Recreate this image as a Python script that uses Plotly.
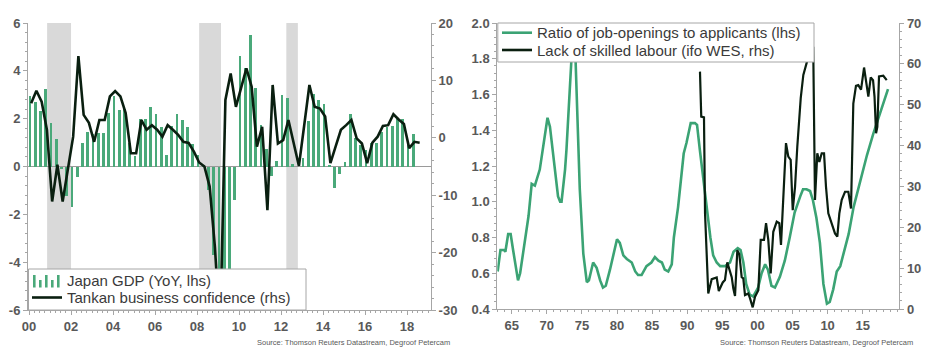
import plotly.graph_objects as go
import pandas as pd

# ---------------- Left panel data ----------------
gdp_quarters = pd.period_range("2000Q1", "2018Q2", freq="Q")
gdp_yoy = [2.95, 2.7, 2.3, 3.25,
           1.8, 1.15, -0.1, -1.25,
           -1.7, -0.45, 1.0, 1.45,
           1.35, 1.4, 1.4, 2.25,
           2.95, 2.35, 2.4, 1.0,
           0.45, 2.0, 2.0, 2.5,
           2.2, 1.65, 0.5, 1.7,
           2.2, 1.94, 1.67, 0.95,
           0.5, 0.05, -1.0, -3.7,
           -8.0, -6.5, -5.2, -1.4,
           4.6, 4.1, 5.5, 3.3,
           1.75, 0.75, -0.4, 0.25,
           3.0, 2.85, 0.1, 0.0,
           0.35, 1.9, 3.05, 2.8,
           2.6, 0.05, -0.9, -0.3,
           0.2, 2.2, 1.2, 0.9,
           0.7, 1.0, 1.0, 1.45,
           1.65, 1.7, 2.0, 2.0,
           1.05, 1.35]

tankan_quarters = pd.period_range("2000Q1", "2018Q3", freq="Q")
tankan = [6.0, 8.2, 6.3, 1.4, -11.1, -4.7, -11.1, -5.6, 0.2, 14.25,
          4.0, 2.6, -0.7, 3.1, 3.1, 7.2, 8.15, 7.2, 4.3, -2.7,
          -2.7, 3.1, 1.4, 2.2, 1.4, 0.2, 2.2, 1.4, 0.5, -0.7,
          -0.9, -2.4, -4.3, -5.0, -8.5, -19.0, -34.0, 6.6, 11.2, 5.4,
          8.8, 12.1, 8.9, -1.55, 1.9, -12.6, 9.2, -1.0, -0.4, 3.1,
          -0.9, -4.9, 2.1, 9.2, 5.4, 5.1, 3.7, -4.4, -1.5, 1.4,
          2.2, 3.1, -0.1, -1.0, -4.4, -0.85, 0.2, 2.05, 2.2, 4.1,
          3.2, 2.4, -1.8, -0.7, -0.85]

recession_start = [2000.86, 2008.1, 2012.25]
recession_end = [2002.0, 2009.14, 2012.8]

left_xticks = [2000, 2002, 2004, 2006, 2008, 2010, 2012, 2014, 2016, 2018]
left_xlabels = ["00", "02", "04", "06", "08", "10", "12", "14", "16", "18"]
left_y1ticks = [-6, -4, -2, 0, 2, 4, 6]
left_y1labels = ["-6", "-4", "-2", "0", "2", "4", "6"]
left_y2ticks = [-30, -20, -10, 0, 10, 20]
left_y2labels = ["-30", "-20", "-10", "0", "10", "20"]

# ---------------- Right panel data ----------------
ratio_years = [1963.0, 1963.4, 1963.9, 1964.1, 1964.5, 1964.85, 1965.2, 1965.9, 1966.2, 1966.65,
               1967.4, 1967.85, 1968.3, 1969.0, 1969.5, 1970.1, 1970.45, 1970.9, 1971.3, 1971.6,
               1971.9, 1972.1, 1972.6, 1972.8, 1973.5, 1973.8, 1974.1, 1974.5, 1974.7, 1975.2,
               1975.7, 1976.0, 1976.6, 1977.1, 1977.6, 1978.0, 1978.4, 1979.0, 1980.0, 1980.4,
               1980.9, 1981.4, 1982.1, 1982.6, 1983.0, 1983.5, 1984.2, 1984.9, 1985.4, 1985.9,
               1986.4, 1986.8, 1987.3, 1987.8, 1988.1, 1988.7, 1989.0, 1989.5, 1989.9, 1990.5,
               1991.1, 1991.4, 1991.8, 1992.3, 1992.8, 1993.3, 1993.7, 1994.2, 1994.7, 1995.4,
               1996.1, 1996.6, 1997.2, 1997.6, 1998.0, 1998.4, 1998.9, 1999.4, 2000.1, 2000.6,
               2001.1, 2001.5, 2002.0, 2002.5, 2003.2, 2003.9, 2004.6, 2005.3, 2006.1, 2006.5,
               2007.0, 2007.5, 2007.9, 2008.4, 2008.9, 2009.4, 2009.9, 2010.3, 2010.8, 2011.3,
               2011.8, 2012.3, 2013.0, 2013.7, 2014.4, 2015.0, 2015.6, 2016.5, 2017.5, 2018.2,
               2018.6]
ratio = [0.61, 0.73, 0.73, 0.72, 0.82, 0.82, 0.73, 0.56, 0.60, 0.73,
         0.92, 1.10, 1.09, 1.18, 1.31, 1.47, 1.42, 1.27, 1.12, 1.03,
         1.00, 1.00, 1.18, 1.29, 1.79, 1.93, 1.79, 1.38, 1.07, 0.71,
         0.55, 0.56, 0.66, 0.63, 0.56, 0.52, 0.53, 0.62, 0.79, 0.77,
         0.70, 0.68, 0.66, 0.61, 0.59, 0.59, 0.64, 0.66, 0.69, 0.67,
         0.66, 0.62, 0.61, 0.65, 0.80, 0.97, 1.10, 1.27, 1.33, 1.44,
         1.44, 1.43, 1.29, 1.12, 0.95, 0.80, 0.70, 0.66, 0.64, 0.64,
         0.66, 0.72, 0.74, 0.73, 0.66, 0.54, 0.48, 0.47, 0.52, 0.60,
         0.65, 0.62, 0.53, 0.52, 0.58, 0.67, 0.80, 0.94, 1.03, 1.07,
         1.07, 1.06, 1.01, 0.91, 0.77, 0.54, 0.43, 0.44, 0.51, 0.61,
         0.64, 0.71, 0.82, 0.97, 1.08, 1.16, 1.26, 1.38, 1.50, 1.59,
         1.63]

ifo_years = [1991.82, 1992.0, 1992.39, 1992.54, 1993.0, 1993.49, 1994.2, 1994.5, 1995.06, 1995.38,
             1995.71, 1996.0, 1996.34, 1996.57, 1996.81, 1997.14, 1997.42, 1997.76, 1997.99, 1998.23,
             1998.7, 1998.95, 1999.33, 1999.66, 2000.13, 2000.47, 2000.94, 2001.23, 2001.55, 2001.89,
             2002.26, 2002.75, 2003.12, 2003.36, 2003.6, 2003.8, 2004.07, 2004.4, 2004.74, 2005.03,
             2005.36, 2005.68, 2006.17, 2006.54, 2006.92, 2007.25, 2007.6, 2007.95, 2008.2, 2008.53,
             2008.82, 2009.16, 2009.49, 2009.77, 2010.1, 2010.58, 2011.05, 2011.38, 2011.67, 2012.01,
             2012.48, 2012.95, 2013.33, 2013.66, 2014.04, 2014.37, 2014.76, 2015.19, 2015.47, 2015.8,
             2016.14, 2016.47, 2016.68, 2016.9, 2017.08, 2017.32, 2017.93, 2018.42]
ifo = [58.1, 47.1, 46.9, 23.4, 3.8, 7.3, 7.7, 4.4, 6.5, 7.1,
       11.4, 9.5, 7.8, 5.0, 3.2, 14.4, 13.4, 7.8, 7.5, 3.4,
       3.8, 2.6, 0.4, 3.0, 4.6, 16.9, 16.9, 21.0, 16.9, 8.7,
       18.9, 21.4, 21.0, 15.7, 25.0, 31.0, 40.6, 37.3, 36.5, 24.2,
       29.9, 39.7, 51.6, 57.3, 59.7, 61.7, 66.0, 64.0, 26.7, 38.1,
       36.0, 38.1, 38.1, 29.9, 23.4, 21.0, 18.5, 17.7, 23.4, 26.7,
       28.7, 28.7, 24.6, 50.3, 54.6, 54.8, 53.7, 59.1, 56.0, 52.0,
       56.7, 56.0, 52.0, 43.0, 44.6, 56.9, 57.1, 56.0]

right_xticks = [1965, 1970, 1975, 1980, 1985, 1990, 1995, 2000, 2005, 2010, 2015]
right_xlabels = ["65", "70", "75", "80", "85", "90", "95", "00", "05", "10", "15"]
right_y1ticks = [0.4, 0.6, 0.8, 1.0, 1.2, 1.4, 1.6, 1.8, 2.0]
right_y1labels = ["0.4", "0.6", "0.8", "1.0", "1.2", "1.4", "1.6", "1.8", "2.0"]
right_y2ticks = [0, 10, 20, 30, 40, 50, 60, 70]
right_y2labels = ["0", "10", "20", "30", "40", "50", "60", "70"]

left_legend_labels = ["Japan GDP (YoY, lhs)", "Tankan business confidence (rhs)"]
right_legend_labels = ["Ratio of job-openings to applicants (lhs)", "Lack of skilled labour (ifo WES, rhs)"]
source_text = "Source: Thomson Reuters Datastream, Degroof Petercam"

# ---------------- Styling ----------------
W, H = 939, 356
BAR_GREEN = "#4aa97a"
LINE_GREEN = "#3ba374"
DARK = "#0a1f10"
AXIS_GREY = "#a6a6a6"
TXT_GREY = "#595959"
LEG_TXT = "#3a3a3a"
FONT = "Liberation Sans, Arial, sans-serif"
tickfont = dict(family=FONT, size=13, color=TXT_GREY, weight="bold")

def qx(periods, offset):
    return [p.year + (p.quarter - 1) * 0.25 + offset for p in periods]

gdp_x = qx(gdp_quarters, 0.05)
tankan_x = qx(tankan_quarters, 0.1)

fig = go.Figure()
fig.add_trace(go.Bar(x=gdp_x, y=gdp_yoy, width=0.13, marker=dict(color=BAR_GREEN, line=dict(width=0)),
                     name=left_legend_labels[0], xaxis="x", yaxis="y", showlegend=False))
fig.add_trace(go.Scatter(x=tankan_x, y=tankan, mode="lines", line=dict(color=DARK, width=2.6),
                         name=left_legend_labels[1], xaxis="x", yaxis="y2", showlegend=False))
fig.add_trace(go.Scatter(x=ratio_years, y=ratio, mode="lines", line=dict(color=LINE_GREEN, width=2.6),
                         name=right_legend_labels[0], xaxis="x2", yaxis="y3", showlegend=False))
fig.add_trace(go.Scatter(x=ifo_years, y=ifo, mode="lines", line=dict(color=DARK, width=2.2),
                         name=right_legend_labels[1], xaxis="x2", yaxis="y4", showlegend=False))

def px_x(p):
    return p / W

def px_y(p):
    return 1 - p / H

y_dom = [px_y(310), px_y(23)]
common_axis = dict(showline=True, linecolor=AXIS_GREY, linewidth=1, ticks="outside", ticklen=4,
                   tickcolor=AXIS_GREY, showgrid=False, zeroline=False, tickfont=tickfont,
                   tickmode="array", fixedrange=True, automargin=False)

def minor(t0, dt):
    return dict(tickmode="linear", tick0=t0, dtick=dt, ticks="outside", ticklen=2, tickcolor=AXIS_GREY)

fig.update_layout(
    template="none",
    width=W, height=H, margin=dict(l=0, r=0, t=0, b=0, autoexpand=False),
    paper_bgcolor="white", plot_bgcolor="white", bargap=0, showlegend=False,
    xaxis=dict(domain=[px_x(28), px_x(431)], range=[1999.95, 2019.14], anchor="y",
               tickvals=left_xticks, ticktext=left_xlabels, minor=minor(2000, 0.25), **common_axis),
    yaxis=dict(domain=y_dom, range=[-6, 6], anchor="x", tickvals=left_y1ticks, ticktext=left_y1labels,
               minor=minor(0, 0.4), **{**common_axis, "zeroline": True},
               zerolinecolor="#9a9a9a", zerolinewidth=1.5),
    yaxis2=dict(domain=y_dom, range=[-30, 20], anchor="x", overlaying="y", side="right",
                tickvals=left_y2ticks, ticktext=left_y2labels, minor=minor(0, 2), **common_axis),
    xaxis2=dict(domain=[px_x(497.3), px_x(899.3)], range=[1962.95, 2020.21], anchor="y3",
                tickvals=right_xticks, ticktext=right_xlabels, minor=minor(1965, 1), **common_axis),
    yaxis3=dict(domain=[px_y(309), px_y(23)], range=[0.4, 2.0], anchor="x2",
                tickvals=right_y1ticks, ticktext=right_y1labels, minor=minor(0.4, 0.04), **common_axis),
    yaxis4=dict(domain=[px_y(309), px_y(23)], range=[0, 70], anchor="x2", overlaying="y3", side="right",
                tickvals=right_y2ticks, ticktext=right_y2labels, minor=minor(0, 2), **common_axis),
)

for x0, x1 in zip(recession_start, recession_end):
    fig.add_shape(type="rect", xref="x", yref="y", x0=x0, x1=x1, y0=-6, y1=6,
                  fillcolor="#d9d9d9", line=dict(width=0), layer="below")

# ---------------- Legend boxes (drawn as overlay shapes + text) ----------------
def paper_rect(x0, y0, x1, y1, fill, line_color=None, line_width=0):
    fig.add_shape(type="rect", xref="paper", yref="paper", x0=px_x(x0), x1=px_x(x1),
                  y0=px_y(y1), y1=px_y(y0), fillcolor=fill,
                  line=dict(color=line_color or fill, width=line_width), layer="above")

def paper_line(x0, x1, y, color, width):
    fig.add_shape(type="line", xref="paper", yref="paper", x0=px_x(x0), x1=px_x(x1),
                  y0=px_y(y), y1=px_y(y), line=dict(color=color, width=width), layer="above")

def legend_text(text, x, y):
    fig.add_annotation(text=text, x=px_x(x), y=px_y(y), xref="paper", yref="paper",
                       xanchor="left", yanchor="middle", showarrow=False,
                       font=dict(family=FONT, size=15, color=LEG_TXT))

# left legend
paper_rect(28.5, 269, 306, 310, "white", AXIS_GREY, 1)
for bx, top in zip([33, 39, 45, 51, 57], [275, 280, 275, 280, 275]):
    paper_rect(bx, top, bx + 2.6, 287.5, BAR_GREEN)
legend_text(left_legend_labels[0], 65, 280)
paper_line(32, 62, 297.5, DARK, 2.6)
legend_text(left_legend_labels[1], 65, 297)

# right legend
paper_rect(497.8, 23, 814, 62, "white", AXIS_GREY, 1)
paper_line(502, 532, 32.7, LINE_GREEN, 2.6)
legend_text(right_legend_labels[0], 535, 32.5)
paper_line(502, 532, 50, DARK, 2.6)
legend_text(right_legend_labels[1], 535, 50)

fig.add_annotation(text=source_text, x=px_x(452), y=px_y(342), xref="paper", yref="paper",
                   xanchor="right", yanchor="middle", showarrow=False,
                   font=dict(family=FONT, size=7.5, color=TXT_GREY))
fig.add_annotation(text=source_text, x=px_x(915), y=px_y(342), xref="paper", yref="paper",
                   xanchor="right", yanchor="middle", showarrow=False,
                   font=dict(family=FONT, size=7.5, color=TXT_GREY))

fig.write_html("out.html", config={"displayModeBar": False, "staticPlot": True},
               post_script="document.body.style.margin='0px';")
